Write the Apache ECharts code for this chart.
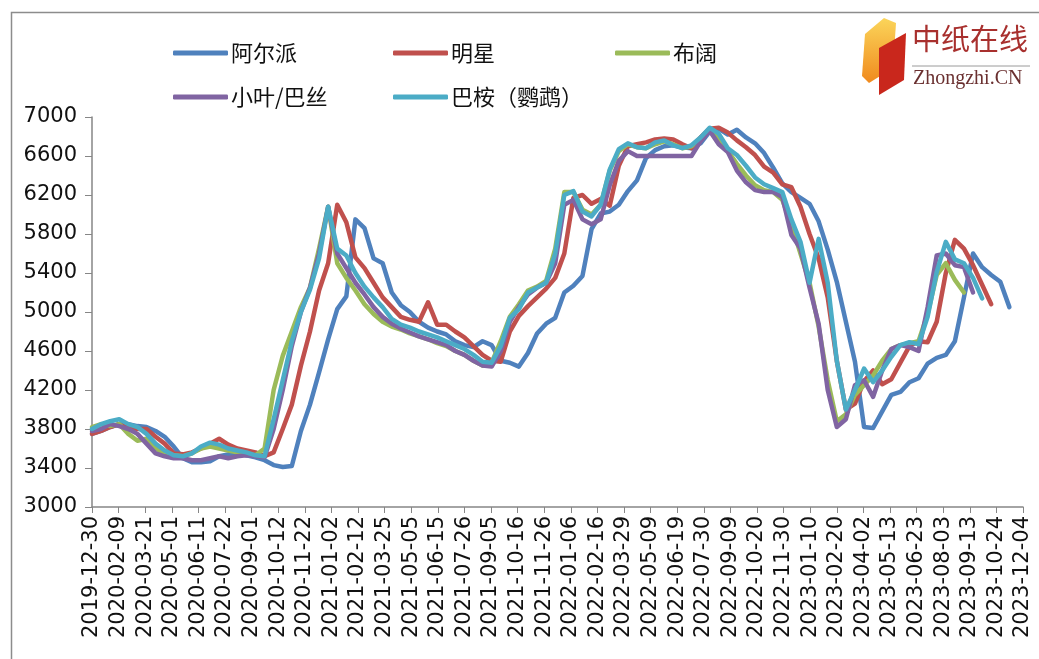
<!DOCTYPE html>
<html><head><meta charset="utf-8">
<script src="https://cdn.jsdelivr.net/npm/echarts@6/dist/echarts.min.js"></script>
<style>html,body{margin:0;padding:0;background:#fff;}#c{width:1039px;height:659px;}</style>
</head><body><div id="c"></div>
<script>
// ---- data (biweekly readings starting 2019-12-30) ----
const startDate = '2019-12-30';
const stepDays = 14;
const tickStepDays = 41;
const tickLabels = ['2019-12-30','2020-02-09','2020-03-21','2020-05-01','2020-06-11','2020-07-22','2020-09-01','2020-10-12','2020-11-22','2021-01-02','2021-02-12','2021-03-25','2021-05-05','2021-06-15','2021-07-26','2021-09-05','2021-10-16','2021-11-26','2022-01-06','2022-02-16','2022-03-29','2022-05-09','2022-06-19','2022-07-30','2022-09-09','2022-10-20','2022-11-30','2023-01-10','2023-02-20','2023-04-02','2023-05-13','2023-06-23','2023-08-03','2023-09-13','2023-10-24','2023-12-04'];
const seriesNames = ['阿尔派','明星','布阔','小叶/巴丝','巴桉（鹦鹉）'];
const alpac = [3750,3780,3820,3850,3850,3830,3820,3780,3720,3620,3500,3460,3460,3470,3520,3540,3550,3530,3510,3480,3430,3410,3420,3780,4050,4380,4720,5030,5160,5950,5860,5550,5500,5200,5070,5000,4900,4840,4800,4770,4700,4660,4640,4700,4660,4500,4480,4440,4580,4780,4880,4940,5200,5270,5370,5850,6010,6030,6100,6240,6350,6580,6660,6700,6710,6690,6680,6730,6850,6880,6820,6870,6790,6730,6630,6480,6320,6230,6170,6110,5930,5640,5310,4900,4490,3820,3810,3980,4150,4180,4280,4320,4470,4530,4560,4700,5150,5600,5460,5380,5310,5050];
const mingxing = [3750,3780,3820,3850,3820,3800,3800,3720,3650,3550,3540,3560,3600,3650,3700,3640,3600,3580,3560,3520,3560,3800,4050,4450,4800,5220,5500,6100,5920,5560,5450,5300,5150,5050,4950,4920,4900,5100,4870,4870,4800,4740,4650,4560,4500,4490,4800,4960,5060,5150,5240,5350,5600,6170,6200,6110,6160,6090,6500,6700,6720,6740,6770,6780,6770,6720,6680,6790,6880,6890,6840,6760,6690,6610,6490,6430,6310,6280,6080,5800,5550,5150,4500,4000,4060,4290,4400,4260,4310,4480,4650,4700,4690,4900,5400,5740,5650,5480,5280,5080];
const bukuo = [3820,3850,3830,3850,3750,3680,3700,3600,3550,3530,3520,3550,3600,3620,3600,3580,3560,3540,3530,3600,4200,4550,4800,5050,5250,5650,6080,5500,5350,5220,5080,4980,4900,4850,4820,4780,4750,4720,4680,4650,4600,4560,4500,4450,4480,4700,4950,5080,5220,5260,5320,5650,6230,6230,6050,6000,6100,6450,6650,6720,6690,6680,6720,6750,6720,6680,6700,6780,6870,6780,6650,6520,6400,6300,6250,6230,6150,5900,5600,5300,4850,4300,3880,3950,4150,4250,4350,4500,4620,4660,4680,4700,4980,5380,5500,5330,5200];
const xiaoye = [3780,3800,3850,3830,3800,3750,3650,3550,3520,3500,3500,3480,3480,3500,3520,3500,3520,3530,3520,3510,3800,4200,4650,5000,5250,5600,6080,5600,5450,5300,5180,5050,4950,4880,4830,4790,4750,4720,4690,4660,4600,4560,4500,4450,4440,4600,4900,5050,5180,5250,5300,5500,6100,6150,5950,5900,5950,6300,6550,6650,6600,6600,6600,6600,6600,6600,6600,6750,6860,6720,6640,6450,6330,6250,6230,6230,6180,5790,5650,5250,4880,4200,3820,3900,4250,4300,4130,4400,4620,4660,4640,4600,5050,5580,5600,5480,5460,5200];
const bayan = [3800,3850,3880,3900,3850,3820,3750,3650,3580,3530,3520,3550,3620,3660,3640,3600,3580,3560,3530,3520,3900,4300,4700,5000,5230,5550,6080,5650,5580,5400,5260,5150,5050,4930,4870,4840,4800,4770,4740,4700,4660,4620,4560,4490,4480,4650,4940,5030,5200,5250,5300,5600,6200,6240,6030,5980,6100,6460,6670,6730,6690,6680,6740,6760,6710,6680,6710,6790,6890,6830,6680,6610,6500,6380,6310,6270,6230,5950,5720,5300,5750,5300,4500,4000,4200,4420,4280,4400,4540,4660,4690,4670,4950,5410,5720,5540,5500,5350,5140];
const seriesValues = [alpac, mingxing, bukuo, xiaoye, bayan];
const colors = ['#4F81BD','#C0504D','#9BBB59','#8064A2','#4BACC6'];

// ---- chart ----
const toPairs = arr => arr.map((v, i) => [i * stepDays, v]);
const chart = echarts.init(document.getElementById('c'), null, {renderer: 'canvas'});
const legendPos = [[168,37],[388,37],[610,37],[168,81],[388,81]];
const legends = seriesNames.map((n, i) => ({
  data: [n], left: legendPos[i][0], top: legendPos[i][1], orient: 'horizontal',
  icon: 'roundRect', itemWidth: 55, itemHeight: 5, itemGap: 0,
  textStyle: {fontSize: 22, color: '#111', fontFamily: 'Noto Sans CJK SC', padding: [0,0,0,-2]},
  selectedMode: false
}));
chart.setOption({
  animation: false,
  color: colors,
  legend: legends,
  grid: {left: 92, top: 117, right: 16, bottom: 152, containLabel: false},
  xAxis: {
    type: 'value', min: 0, max: tickStepDays * (tickLabels.length - 1), interval: tickStepDays,
    axisLine: {show: true, lineStyle: {color: '#868686', width: 1.5}},
    axisTick: {show: true, length: 6, lineStyle: {color: '#868686'}},
    splitLine: {show: false},
    axisLabel: {rotate: 90, fontSize: 21, color: '#111', fontFamily: 'DejaVu Sans', margin: 9,
      formatter: v => tickLabels[Math.round(v / tickStepDays)] || ''}
  },
  yAxis: {
    type: 'value', min: 3000, max: 7000, interval: 400,
    axisLine: {show: true, lineStyle: {color: '#868686', width: 1.5}},
    axisTick: {show: true, length: 7, lineStyle: {color: '#868686'}},
    splitLine: {show: false},
    axisLabel: {fontSize: 21, color: '#111', fontFamily: 'DejaVu Sans', margin: 15, formatter: v => String(v)}
  },
  series: seriesNames.map((n, i) => ({
    name: n, type: 'line', data: toPairs(seriesValues[i]), showSymbol: false, symbol: 'none',
    lineStyle: {width: 4.5, color: colors[i], cap: 'round', join: 'round'}, z: 2 + i
  })),
  graphic: [
    {type: 'rect', shape: {x: 11.5, y: 12.5, width: 1040, height: 660}, style: {fill: 'none', stroke: '#8c8c8c', lineWidth: 1.5}, silent: true},
    {type: 'polygon', shape: {points: [[884,18],[896,23],[893,68],[869,83],[862,76],[865,34]]},
      style: {fill: new echarts.graphic.LinearGradient(0,0,0,1,[{offset:0,color:'#fbd55a'},{offset:1,color:'#f08a1e'}])}},
    {type: 'polygon', shape: {points: [[879,48],[906,33],[904,80],[879,95]]}, style: {fill: '#c9271c'}},
    {type: 'text', left: 912, top: 24, style: {text: '中纸在线', fontSize: 29, fill: '#a8302e', fontFamily: 'Noto Sans CJK SC'}},
    {type: 'line', shape: {x1: 912, y1: 66, x2: 1030, y2: 66}, style: {stroke: '#9a9a9a', lineWidth: 1}},
    {type: 'text', left: 913, top: 69, style: {text: 'Zhongzhi.CN', fontSize: 20, fill: '#6a3030', fontFamily: 'Liberation Serif'}}
  ]
});
</script></body></html>
